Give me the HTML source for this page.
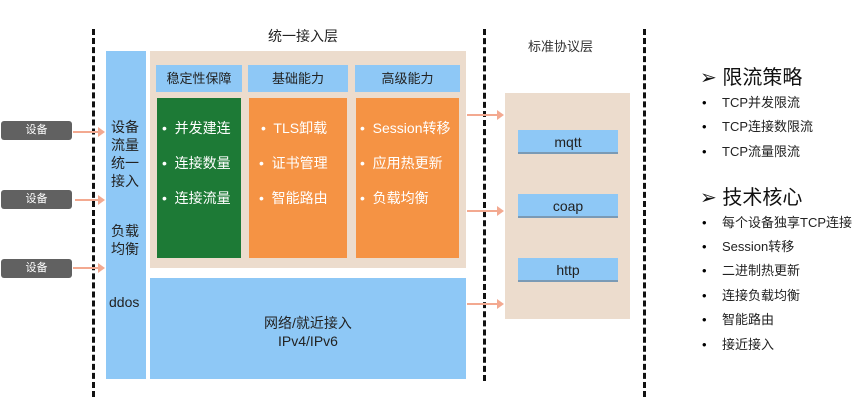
<!DOCTYPE html>
<html><head><meta charset="utf-8"><style>
body{margin:0;width:864px;height:409px;background:#fff;position:relative;overflow:hidden;font-family:"Liberation Sans","Noto Sans CJK SC",sans-serif;}
div{position:absolute;box-sizing:border-box;}
.dash{width:0;border-left:3px dashed #111;}
.dev{background:#616161;color:#fff;font-size:11px;text-align:center;line-height:19px;border-radius:3px;width:71px;height:19px;left:1px;}
.arr{height:2px;background:#f3a990;}
.arr:after{content:"";position:absolute;right:-2px;top:-4px;border-left:7px solid #f3a990;border-top:5px solid transparent;border-bottom:5px solid transparent;}
.hd{background:#8ec8f6;color:#222;font-size:13px;text-align:center;line-height:27px;top:65px;height:27px;}
.col{top:98px;height:160px;color:#fff;font-size:14px;}
.col p{margin:0;position:absolute;white-space:nowrap;}
.pb{background:#8ec8f6;left:518px;width:100px;height:24px;text-align:center;line-height:24px;font-size:14px;color:#222;border-bottom:2px solid #7a9ab5;}
.r{left:722px;font-size:13px;line-height:16px;color:#222;white-space:nowrap;}
.b{left:702px;font-size:13px;line-height:16px;}
</style></head><body>
<div class="dash" style="left:92px;top:29px;height:368px"></div>
<div class="dash" style="left:483px;top:29px;height:352px"></div>
<div class="dash" style="left:643px;top:29px;height:368px"></div>
<div style="left:268px;top:26px;font-size:14px;color:#222">统一接入层</div>
<div style="left:528px;top:36px;font-size:13px;color:#333">标准协议层</div>
<div class="dev" style="top:121px">设备</div>
<div class="dev" style="top:190px">设备</div>
<div class="dev" style="top:259px">设备</div>
<div class="arr" style="left:73px;top:131px;width:30px"></div>
<div class="arr" style="left:75px;top:199px;width:28px"></div>
<div class="arr" style="left:73px;top:267px;width:30px"></div>
<div style="left:106px;top:51px;width:40px;height:328px;background:#8ec8f6;"></div>
<div style="left:111px;top:118px;font-size:14px;line-height:18px;color:#222;width:30px">设备流量统一接入</div>
<div style="left:111px;top:222px;font-size:14px;line-height:18px;color:#222;width:30px">负载均衡</div>
<div style="left:109px;top:294px;font-size:14px;color:#222">ddos</div>
<div style="left:150px;top:51px;width:316px;height:217px;background:#ecdccd"></div>
<div class="hd" style="left:156px;width:86px">稳定性保障</div>
<div class="hd" style="left:248px;width:100px">基础能力</div>
<div class="hd" style="left:355px;width:105px">高级能力</div>
<div class="col" style="left:157px;width:84px;background:#1d7a36"><p style="left:5px;top:20px">•&nbsp; 并发建连</p><p style="left:5px;top:55px">•&nbsp; 连接数量</p><p style="left:5px;top:90px">•&nbsp; 连接流量</p></div>
<div class="col" style="left:249px;width:98px;background:#f59344"><p style="left:12px;top:20px">•&nbsp; TLS卸载</p><p style="left:10px;top:55px">•&nbsp; 证书管理</p><p style="left:10px;top:90px">•&nbsp; 智能路由</p></div>
<div class="col" style="left:356px;width:103px;background:#f59344"><p style="left:4px;top:20px">•&nbsp; Session转移</p><p style="left:4px;top:55px">•&nbsp; 应用热更新</p><p style="left:4px;top:90px">•&nbsp; 负载均衡</p></div>
<div style="left:150px;top:278px;width:316px;height:101px;background:#8ec8f6;text-align:center;font-size:14px;line-height:18px;color:#222;padding-top:36px">网络/就近接入<br>IPv4/IPv6</div>
<div class="arr" style="left:467px;top:114px;width:35px"></div>
<div class="arr" style="left:467px;top:210px;width:35px"></div>
<div class="arr" style="left:467px;top:303px;width:35px"></div>
<div style="left:505px;top:93px;width:125px;height:226px;background:#ecdccd"></div>
<div class="pb" style="top:130px">mqtt</div>
<div class="pb" style="top:194px">coap</div>
<div class="pb" style="top:258px">http</div>
<div style="left:700px;top:61px;font-size:20px;color:#111">➢ 限流策略</div>
<div class="b" style="top:95px">•</div><div class="r" style="top:95px">TCP并发限流</div>
<div class="b" style="top:119px">•</div><div class="r" style="top:119px">TCP连接数限流</div>
<div class="b" style="top:144px">•</div><div class="r" style="top:144px">TCP流量限流</div>
<div style="left:700px;top:181px;font-size:20px;color:#111">➢ 技术核心</div>
<div class="b" style="top:215px">•</div><div class="r" style="top:215px">每个设备独享TCP连接</div>
<div class="b" style="top:239px">•</div><div class="r" style="top:239px">Session转移</div>
<div class="b" style="top:263px">•</div><div class="r" style="top:263px">二进制热更新</div>
<div class="b" style="top:288px">•</div><div class="r" style="top:288px">连接负载均衡</div>
<div class="b" style="top:312px">•</div><div class="r" style="top:312px">智能路由</div>
<div class="b" style="top:337px">•</div><div class="r" style="top:337px">接近接入</div>
</body></html>
